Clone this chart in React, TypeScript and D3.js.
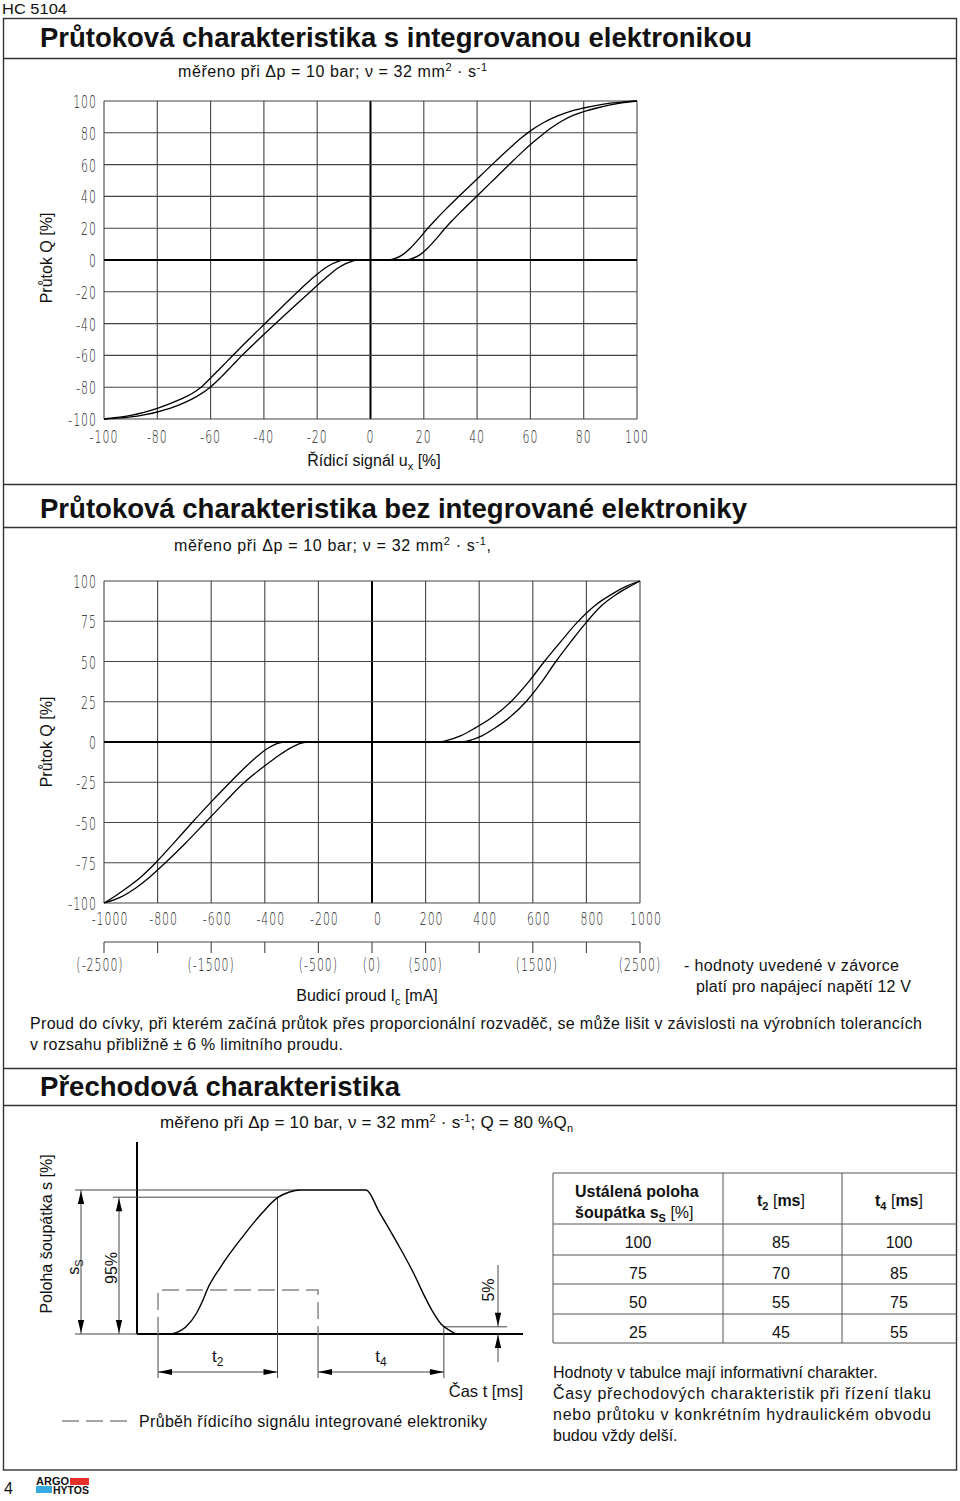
import React from 'react';
import * as d3 from 'd3';

// ---------- Chart 1: flow vs. control signal (with integrated electronics)
const ch1SignalTicks = [-100, -80, -60, -40, -20, 0, 20, 40, 60, 80, 100];
const ch1FlowTicks = [100, 80, 60, 40, 20, 0, -20, -40, -60, -80, -100];
const ch1UpperSignal = [-100, -95, -90, -85, -80, -75, -70, -66.5, -63.6, -60, -56, -52.5, -46, -39.8, -33.7, -27.5, -24, -20.5, -17.4, -14.5, -12, -10,
  6.3, 9, 12, 15, 18, 21, 24, 28, 34, 40, 47, 53, 57, 60, 65, 70, 75, 80, 85, 90, 95, 100];
const ch1UpperFlow = [-100, -99, -97.7, -95.8, -93.3, -90.2, -86.6, -83.5, -80, -74.2, -67.5, -61.5, -50.5, -40.3, -30.3, -20.3, -14.8, -9.6, -5.5, -2.5, -0.8, 0,
  0, 0.8, 3.2, 7.5, 13, 19, 24.5, 31.5, 41.3, 51, 62.2, 71.5, 77.3, 81.2, 86.5, 90.5, 93.5, 95.6, 97.3, 98.6, 99.5, 100];
const ch1LowerSignal = [-100, -95, -90, -85, -80, -75, -70, -65, -60, -56, -52, -48.2, -42, -35.5, -29, -22.5, -19, -15.5, -12.5, -9.5, -7, -5,
  12.8, 15.5, 18.5, 21.5, 24.5, 27.5, 30.5, 34, 39.5, 45, 51, 57, 61, 64, 68, 72, 76, 80, 85, 90, 95, 100];
const ch1LowerFlow = [-100, -99.5, -98.7, -97.4, -95.6, -93.2, -89.9, -85.6, -79.8, -73.5, -66.6, -60, -50, -39.8, -29.7, -19.8, -14.5, -9.4, -5.4, -2.4, -0.8, 0,
  0, 0.8, 3.2, 7.5, 13, 19, 24.5, 30.5, 39.5, 48.5, 58.3, 68, 74, 78.2, 83.3, 87.6, 90.9, 93.3, 95.6, 97.5, 99, 100];

// ---------- Chart 2: flow vs. coil current (without electronics)
const ch2CurrentTicks = [-1000, -800, -600, -400, -200, 0, 200, 400, 600, 800, 1000];
const ch2FlowTicks = [100, 75, 50, 25, 0, -25, -50, -75, -100];
const ch2Current12VTicks = [-2500, -2000, -1500, -1000, -500, 0, 500, 1000, 1500, 2000, 2500];
const ch2Current12VLabels = [-2500, -1500, -500, 0, 500, 1500, 2500];
const ch2UpperCurrent = [-1000, -955, -905, -860, -807, -740, -671, -600, -529, -475, -429, -390, -355, -329,
  243, 280, 330, 386, 450, 521, 585, 643, 705, 764, 830, 900, 950, 1000];
const ch2UpperFlow = [-100, -95.3, -89.5, -83.5, -75, -62.8, -50, -37.2, -25, -16, -9, -4, -1, 0,
  0, 1, 3.8, 8.8, 15.5, 25.5, 37.5, 50, 62.5, 74, 84.5, 92.3, 96.8, 100];
const ch2LowerCurrent = [-1000, -940, -880, -830, -771, -697, -622, -550, -479, -425, -380, -340, -305, -270, -243,
  329, 365, 410, 460, 515, 577, 634, 686, 743, 798, 855, 910, 955, 1000];
const ch2LowerFlow = [-100, -96.5, -90.5, -84, -75, -63, -50, -37.5, -25.5, -18, -12.3, -7.5, -3.8, -1, 0,
  0, 1, 3.8, 8.8, 15.5, 25.5, 37.5, 50, 62.5, 74, 84.5, 91.5, 96, 100];

// ---------- Chart 3: step response (schematic)
const respTime = [18, 25.4, 30.9, 34.2, 36.3, 43.4, 55, 64.8, 72.8, 79, 84.5, 118.7, 125.4, 134.5, 143.4, 148.7, 153, 157.5, 162, 166, 200];
const respPos = [0, 5, 14.6, 23.6, 30.6, 46.7, 68, 84, 94.7, 98.6, 100, 100, 85, 64, 42, 27, 16, 7, 2.5, 0, 0];
const signalTimes = [10.9, 93.8];
const signalLevel = 30.6;
const t2EndTime = 72.8;
const t4EndTime = 159;

// ---------- Table
const spoolPositions = [100, 75, 50, 25];
const t2Times = [85, 70, 55, 45];
const t4Times = [100, 85, 75, 55];

const SANS = "'Liberation Sans', Arial, Helvetica, sans-serif";
const DIN = "'DejaVu Sans', sans-serif";

type Pt = [number, number];

function Din({ x, y, text, anchor = 'middle' }: { x: number; y: number; text: string; anchor?: string }) {
  return (
    <text
      transform={`translate(${x},${y}) scale(0.64,1)`}
      textAnchor={anchor as any}
      fontFamily={DIN}
      fontWeight={200}
      fontSize={17}
      letterSpacing={1.6}
      fill="#222"
    >
      {text}
    </text>
  );
}

function arrow(tx: number, ty: number, dir: 'up' | 'down' | 'left' | 'right', len = 13, hw = 3.2) {
  switch (dir) {
    case 'up':
      return `M${tx},${ty}L${tx - hw},${ty + len}L${tx + hw},${ty + len}Z`;
    case 'down':
      return `M${tx},${ty}L${tx - hw},${ty - len}L${tx + hw},${ty - len}Z`;
    case 'left':
      return `M${tx},${ty}L${tx + len},${ty - hw}L${tx + len},${ty + hw}Z`;
    default:
      return `M${tx},${ty}L${tx - len},${ty - hw}L${tx - len},${ty + hw}Z`;
  }
}

export default function App() {
  // scales chart 1
  const x1 = d3.scaleLinear().domain([-100, 100]).range([104, 637]);
  const y1 = d3.scaleLinear().domain([-100, 100]).range([419, 101]);
  const line1 = d3.line<Pt>().x((d) => x1(d[0])).y((d) => y1(d[1])).curve(d3.curveMonotoneX);
  const c1Upper = d3.zip(ch1UpperSignal, ch1UpperFlow) as Pt[];
  const c1Lower = d3.zip(ch1LowerSignal, ch1LowerFlow) as Pt[];

  // scales chart 2
  const x2 = d3.scaleLinear().domain([-1000, 1000]).range([104, 640]);
  const x2b = d3.scaleLinear().domain([-2500, 2500]).range([104, 640]);
  const y2 = d3.scaleLinear().domain([-100, 100]).range([903, 581]);
  const line2 = d3.line<Pt>().x((d) => x2(d[0])).y((d) => y2(d[1])).curve(d3.curveMonotoneX);
  const c2Upper = d3.zip(ch2UpperCurrent, ch2UpperFlow) as Pt[];
  const c2Lower = d3.zip(ch2LowerCurrent, ch2LowerFlow) as Pt[];

  // scales chart 3
  const tx = d3.scaleLinear().domain([0, 200]).range([137, 523]);
  const sy = d3.scaleLinear().domain([0, 100]).range([1334, 1190]);
  const line3 = d3.line<Pt>().x((d) => tx(d[0])).y((d) => sy(d[1])).curve(d3.curveMonotoneX);
  const resp = d3.zip(respTime, respPos) as Pt[];

  const gridColor = '#444';
  const frame = '#333';

  const t2a = tx(signalTimes[0]);
  const t2b = tx(t2EndTime);
  const t4a = tx(signalTimes[1]);
  const t4b = tx(t4EndTime);
  const sigY = sy(signalLevel);
  const dimY = 1372;

  const colX = [553, 723, 842, 957];
  const rowY = [1173, 1224, 1255, 1284, 1314, 1343];
  const colC = [638, 781, 899];

  return (
    <svg
      width={960}
      height={1501}
      viewBox="0 0 960 1501"
      style={{ position: 'absolute', left: 0, top: 0, display: 'block', background: '#fff' }}
      fontFamily={SANS}
    >
      <rect x={0} y={0} width={960} height={1501} fill="#fff" />
      {/* header */}
      <text x={2} y={14} fontSize={15} textLength={65} lengthAdjust="spacingAndGlyphs" fill="#111">HC 5104</text>

      {/* page frame */}
      <rect x={3.5} y={18.5} width={953} height={1451.5} fill="none" stroke={frame} strokeWidth={1.4} />
      {[58.5, 484.5, 527.5, 1068.5, 1105.5].map((y) => (
        <line key={y} x1={3.5} x2={956.5} y1={y} y2={y} stroke={frame} strokeWidth={1.4} />
      ))}

      {/* ================= Section 1 ================= */}
      <text x={40} y={47} fontSize={28} fontWeight="bold" textLength={712} lengthAdjust="spacingAndGlyphs" fill="#111">
        Průtoková charakteristika s integrovanou elektronikou
      </text>
      <text x={178} y={77} fontSize={16} textLength={309} fill="#111">
        měřeno při Δp = 10 bar; ν = 32 mm<tspan dy={-6} fontSize={11}>2</tspan><tspan dy={6}> · s</tspan><tspan dy={-6} fontSize={11}>-1</tspan>
      </text>

      {/* grid chart 1 */}
      {ch1SignalTicks.map((v) => (
        <line key={'v1' + v} x1={x1(v)} x2={x1(v)} y1={y1(-100)} y2={y1(100)}
          stroke={v === 0 ? '#000' : gridColor} strokeWidth={v === 0 ? 2 : 1.1} />
      ))}
      {ch1FlowTicks.map((v) => (
        <line key={'h1' + v} x1={x1(-100)} x2={x1(100)} y1={y1(v)} y2={y1(v)}
          stroke={v === 0 ? '#000' : gridColor} strokeWidth={v === 0 ? 2 : 1.1} />
      ))}
      <path d={line1(c1Upper) || ''} fill="none" stroke="#000" strokeWidth={1.3} />
      <path d={line1(c1Lower) || ''} fill="none" stroke="#000" strokeWidth={1.3} />
      {ch1FlowTicks.map((v) => (
        <Din key={'yl1' + v} x={97} y={y1(v) + 7} text={String(v)} anchor="end" />
      ))}
      {ch1SignalTicks.map((v) => (
        <Din key={'xl1' + v} x={x1(v)} y={443} text={String(v)} />
      ))}
      <text transform="translate(52,258) rotate(-90)" textAnchor="middle" fontSize={16} fill="#111">Průtok Q [%]</text>
      <text x={374} y={466} textAnchor="middle" fontSize={16} fill="#111">
        Řídicí signál u<tspan dy={4} fontSize={11}>x</tspan><tspan dy={-4}> [%]</tspan>
      </text>

      {/* ================= Section 2 ================= */}
      <text x={40} y={518} fontSize={28} fontWeight="bold" textLength={707} lengthAdjust="spacingAndGlyphs" fill="#111">
        Průtoková charakteristika bez integrované elektroniky
      </text>
      <text x={174} y={551} fontSize={16} textLength={317} fill="#111">
        měřeno při Δp = 10 bar; ν = 32 mm<tspan dy={-6} fontSize={11}>2</tspan><tspan dy={6}> · s</tspan><tspan dy={-6} fontSize={11}>-1</tspan><tspan dy={6}>,</tspan>
      </text>

      {ch2CurrentTicks.map((v) => (
        <line key={'v2' + v} x1={x2(v)} x2={x2(v)} y1={y2(-100)} y2={y2(100)}
          stroke={v === 0 ? '#000' : gridColor} strokeWidth={v === 0 ? 2 : 1.1} />
      ))}
      {ch2FlowTicks.map((v) => (
        <line key={'h2' + v} x1={x2(-1000)} x2={x2(1000)} y1={y2(v)} y2={y2(v)}
          stroke={v === 0 ? '#000' : gridColor} strokeWidth={v === 0 ? 2 : 1.1} />
      ))}
      <path d={line2(c2Upper) || ''} fill="none" stroke="#000" strokeWidth={1.3} />
      <path d={line2(c2Lower) || ''} fill="none" stroke="#000" strokeWidth={1.3} />
      {ch2FlowTicks.map((v) => (
        <Din key={'yl2' + v} x={97} y={y2(v) + 7} text={String(v)} anchor="end" />
      ))}
      {ch2CurrentTicks.map((v) => (
        <Din key={'xl2' + v} x={x2(v) + 6} y={925} text={String(v)} />
      ))}
      {/* 12 V current axis */}
      <line x1={x2b(-2500)} x2={x2b(2500)} y1={942} y2={942} stroke={gridColor} strokeWidth={1.1} />
      {ch2Current12VTicks.map((v) => (
        <line key={'t12' + v} x1={x2b(v)} x2={x2b(v)} y1={942} y2={953} stroke={gridColor} strokeWidth={1.1} />
      ))}
      {ch2Current12VLabels.map((v) => (
        <Din key={'l12' + v} x={x2b(v) + (v === -2500 ? -4 : v === 1500 ? 4 : 0)} y={971} text={`(${v})`} />
      ))}
      <text transform="translate(52,742) rotate(-90)" textAnchor="middle" fontSize={16} fill="#111">Průtok Q [%]</text>
      <text x={367} y={1001} textAnchor="middle" fontSize={16} fill="#111">
        Budicí proud I<tspan dy={4} fontSize={11}>c</tspan><tspan dy={-4}> [mA]</tspan>
      </text>
      <text x={684} y={971} fontSize={16} textLength={215} fill="#111">- hodnoty uvedené v závorce</text>
      <text x={696} y={992} fontSize={16} textLength={215} fill="#111">platí pro napájecí napětí 12 V</text>
      <text x={30} y={1029} fontSize={16} textLength={892} fill="#111">
        Proud do cívky, při kterém začíná průtok přes proporcionální rozvaděč, se může lišit v závislosti na výrobních tolerancích
      </text>
      <text x={30} y={1050} fontSize={16} textLength={313} fill="#111">v rozsahu přibližně ± 6 % limitního proudu.</text>

      {/* ================= Section 3 ================= */}
      <text x={40} y={1096} fontSize={28} fontWeight="bold" textLength={360} lengthAdjust="spacingAndGlyphs" fill="#111">
        Přechodová charakteristika
      </text>
      <text x={160} y={1128} fontSize={17} textLength={413} fill="#111">
        měřeno při Δp = 10 bar, ν = 32 mm<tspan dy={-6} fontSize={11}>2</tspan><tspan dy={6}> · s</tspan><tspan dy={-6} fontSize={11}>-1</tspan><tspan dy={6}>; Q = 80 %Q</tspan><tspan dy={4} fontSize={11}>n</tspan>
      </text>

      {/* axes */}
      <line x1={137} x2={137} y1={1142} y2={sy(0)} stroke="#000" strokeWidth={2} />
      <line x1={75} x2={137} y1={sy(0)} y2={sy(0)} stroke="#444" strokeWidth={1} />
      <line x1={137} x2={523} y1={sy(0)} y2={sy(0)} stroke="#000" strokeWidth={1.8} />

      {/* reference lines */}
      <line x1={75} x2={tx(84.5)} y1={sy(100)} y2={sy(100)} stroke="#444" strokeWidth={1} />
      <line x1={113} x2={t2b} y1={sy(95)} y2={sy(95)} stroke="#444" strokeWidth={1} />
      <line x1={t2b} x2={t2b} y1={sy(95)} y2={1378} stroke="#444" strokeWidth={1} />
      <line x1={t2a} x2={t2a} y1={sy(0)} y2={1378} stroke="#444" strokeWidth={1} />
      <line x1={t4a} x2={t4a} y1={sy(0)} y2={1378} stroke="#444" strokeWidth={1} />
      <line x1={t4b} x2={t4b} y1={sy(5)} y2={1378} stroke="#444" strokeWidth={1} />
      <line x1={t4b} x2={507} y1={sy(5)} y2={sy(5)} stroke="#444" strokeWidth={1} />

      {/* control signal (dashed) */}
      <path d={`M${t2a},${sy(0)}V${sigY}H${t4a}V${sy(0)}`} fill="none" stroke="#888" strokeWidth={1.5} strokeDasharray="17,7" />

      {/* response curve */}
      <path d={line3(resp) || ''} fill="none" stroke="#000" strokeWidth={1.4} />

      {/* s_s dimension */}
      <line x1={81} x2={81} y1={sy(100)} y2={sy(0)} stroke="#444" strokeWidth={1} />
      <path d={arrow(81, sy(100) + 1, 'up')} fill="#000" />
      <path d={arrow(81, sy(0) - 1, 'down')} fill="#000" />
      {/* 95% dimension */}
      <line x1={119} x2={119} y1={sy(95)} y2={sy(0)} stroke="#444" strokeWidth={1} />
      <path d={arrow(119, sy(95) + 1, 'up')} fill="#000" />
      <path d={arrow(119, sy(0) - 1, 'down')} fill="#000" />
      {/* 5% dimension */}
      <line x1={498} x2={498} y1={1265} y2={sy(5)} stroke="#444" strokeWidth={1} />
      <path d={arrow(498, sy(5) - 1, 'down')} fill="#000" />
      <line x1={498} x2={498} y1={sy(0)} y2={1362} stroke="#444" strokeWidth={1} />
      <path d={arrow(498, sy(0) + 1, 'up')} fill="#000" />
      {/* t2 / t4 dimensions */}
      <line x1={t2a} x2={t2b} y1={dimY} y2={dimY} stroke="#444" strokeWidth={1} />
      <path d={arrow(t2a, dimY, 'left', 14, 3)} fill="#000" />
      <path d={arrow(t2b, dimY, 'right', 14, 3)} fill="#000" />
      <line x1={t4a} x2={t4b} y1={dimY} y2={dimY} stroke="#444" strokeWidth={1} />
      <path d={arrow(t4a, dimY, 'left', 14, 3)} fill="#000" />
      <path d={arrow(t4b, dimY, 'right', 14, 3)} fill="#000" />

      <text x={(t2a + t2b) / 2} y={1362} textAnchor="middle" fontSize={17} fill="#111">t<tspan dy={4} fontSize={12}>2</tspan></text>
      <text x={(t4a + t4b) / 2} y={1362} textAnchor="middle" fontSize={17} fill="#111">t<tspan dy={4} fontSize={12}>4</tspan></text>
      <text x={523} y={1397} textAnchor="end" fontSize={16.5} fill="#111">Čas t [ms]</text>

      <text transform="translate(52,1234) rotate(-90)" textAnchor="middle" fontSize={16} fill="#111">Poloha šoupátka s [%]</text>
      <text transform="translate(79,1267) rotate(-90)" textAnchor="middle" fontSize={16} fill="#111">s<tspan dy={4} fontSize={11}>S</tspan></text>
      <text transform="translate(117,1268) rotate(-90)" textAnchor="middle" fontSize={16} fill="#111">95%</text>
      <text transform="translate(494,1290) rotate(-90)" textAnchor="middle" fontSize={16} fill="#111">5%</text>

      {/* legend */}
      <line x1={62} x2={130} y1={1421} y2={1421} stroke="#888" strokeWidth={1.5} strokeDasharray="17,7" />
      <text x={139} y={1427} fontSize={16} textLength={348} fill="#111">Průběh řídicího signálu integrované elektroniky</text>

      {/* table */}
      {rowY.map((y) => (
        <line key={'tr' + y} x1={colX[0]} x2={colX[3]} y1={y} y2={y} stroke="#555" strokeWidth={1} />
      ))}
      {colX.slice(0, 3).map((x) => (
        <line key={'tc' + x} x1={x} x2={x} y1={rowY[0]} y2={rowY[5]} stroke="#555" strokeWidth={1} />
      ))}
      <text x={575} y={1197} fontSize={16} fontWeight="bold" fill="#111">Ustálená poloha</text>
      <text x={575} y={1218} fontSize={16} fill="#111">
        <tspan fontWeight="bold">šoupátka s</tspan>
        <tspan fontWeight="bold" dy={4} fontSize={11}>S</tspan>
        <tspan dy={-4}> [%]</tspan>
      </text>
      <text x={colC[1]} y={1206} textAnchor="middle" fontSize={16} fill="#111">
        <tspan fontWeight="bold">t</tspan>
        <tspan fontWeight="bold" dy={4} fontSize={11}>2</tspan>
        <tspan dy={-4}> [</tspan><tspan fontWeight="bold">ms</tspan><tspan>]</tspan>
      </text>
      <text x={colC[2]} y={1206} textAnchor="middle" fontSize={16} fill="#111">
        <tspan fontWeight="bold">t</tspan>
        <tspan fontWeight="bold" dy={4} fontSize={11}>4</tspan>
        <tspan dy={-4}> [</tspan><tspan fontWeight="bold">ms</tspan><tspan>]</tspan>
      </text>
      {spoolPositions.map((v, i) => (
        <g key={'row' + i}>
          <text x={colC[0]} y={rowY[i + 1] + 24} textAnchor="middle" fontSize={16} fill="#111">{v}</text>
          <text x={colC[1]} y={rowY[i + 1] + 24} textAnchor="middle" fontSize={16} fill="#111">{t2Times[i]}</text>
          <text x={colC[2]} y={rowY[i + 1] + 24} textAnchor="middle" fontSize={16} fill="#111">{t4Times[i]}</text>
        </g>
      ))}
      <text x={553} y={1378} fontSize={16} fill="#111">Hodnoty v tabulce mají informativní charakter.</text>
      <text x={553} y={1399} fontSize={16} textLength={378} lengthAdjust="spacing" fill="#111">Časy přechodových charakteristik při řízení tlaku</text>
      <text x={553} y={1420} fontSize={16} textLength={378} lengthAdjust="spacing" fill="#111">nebo průtoku v konkrétním hydraulickém obvodu</text>
      <text x={553} y={1441} fontSize={16} fill="#111">budou vždy delší.</text>

      {/* footer */}
      <text x={4} y={1494} fontSize={16} fill="#111">4</text>
      <rect x={70} y={1478} width={19} height={7} fill="#e4312b" />
      <rect x={36} y={1486} width={16} height={7} fill="#36a9e1" />
      <text x={36} y={1485} fontSize={10} fontWeight="900" textLength={33} lengthAdjust="spacingAndGlyphs" fill="#111">ARGO</text>
      <text x={53} y={1493.5} fontSize={10} fontWeight="900" textLength={36} lengthAdjust="spacingAndGlyphs" fill="#111">HYTOS</text>
    </svg>
  );
}
